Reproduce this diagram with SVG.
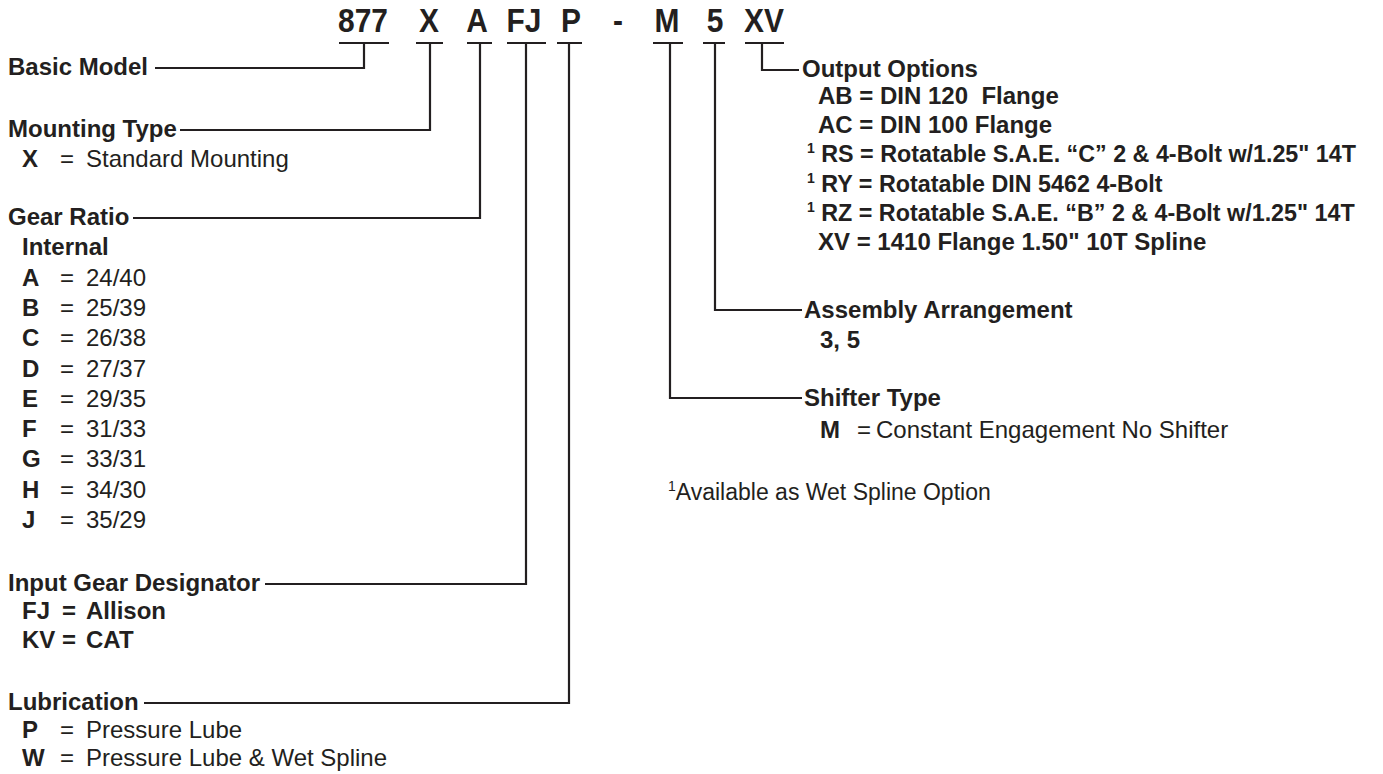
<svg xmlns="http://www.w3.org/2000/svg" width="1383" height="774" viewBox="0 0 1383 774">
<style>
text{font-family:"Liberation Sans",Arial,Helvetica,sans-serif;fill:#231f20;font-size:24px}
.b{font-weight:bold}
.code{font-weight:bold;font-size:34px;text-anchor:middle}
.sup{font-size:14px}
.nar{font-size:23.3px}
.ln{fill:none;stroke:#231f20;stroke-width:2.2}
</style>
<rect width="1383" height="774" fill="#ffffff"/>
<g id="code">
<text class="code" transform="translate(363,32) scale(0.88,1)">877</text>
<text class="code" transform="translate(429,32) scale(0.88,1)">X</text>
<text class="code" transform="translate(477,32) scale(0.88,1)">A</text>
<text class="code" transform="translate(524,32) scale(0.88,1)">FJ</text>
<text class="code" transform="translate(571,32) scale(0.88,1)">P</text>
<text class="code" transform="translate(618,32) scale(0.88,1)">-</text>
<text class="code" transform="translate(667,32) scale(0.88,1)">M</text>
<text class="code" transform="translate(715,32) scale(0.88,1)">5</text>
<text class="code" transform="translate(764,32) scale(0.88,1)">XV</text>
</g>
<g id="connectors">
<path class="ln" d="M339,43H389M364,43V68H155"/>
<path class="ln" d="M416,43H443M430,43V130H180"/>
<path class="ln" d="M467,43H492M480,43V218H133"/>
<path class="ln" d="M507,43H546M526,43V584H265"/>
<path class="ln" d="M557,43H582M569,43V703H144"/>
<path class="ln" d="M653,43H683M670,43V398H802"/>
<path class="ln" d="M703,43H725M715,43V310H802"/>
<path class="ln" d="M745,43H784M762,43V70H799"/>
</g>
<g id="basic-model">
<text class="b" x="8" y="75">Basic Model</text>
</g>
<g id="mounting-type">
<text class="b" x="8" y="137">Mounting Type</text>
<text class="b" x="22" y="167">X</text><text x="60" y="167">=</text><text x="86" y="167">Standard Mounting</text>
</g>
<g id="gear-ratio">
<text class="b" x="8" y="225">Gear Ratio</text>
<text class="b" x="22" y="255">Internal</text>
<text class="b" x="22" y="286">A</text><text x="60" y="286">=</text><text x="86" y="286">24/40</text>
<text class="b" x="22" y="316">B</text><text x="60" y="316">=</text><text x="86" y="316">25/39</text>
<text class="b" x="22" y="346">C</text><text x="60" y="346">=</text><text x="86" y="346">26/38</text>
<text class="b" x="22" y="377">D</text><text x="60" y="377">=</text><text x="86" y="377">27/37</text>
<text class="b" x="22" y="407">E</text><text x="60" y="407">=</text><text x="86" y="407">29/35</text>
<text class="b" x="22" y="437">F</text><text x="60" y="437">=</text><text x="86" y="437">31/33</text>
<text class="b" x="22" y="467">G</text><text x="60" y="467">=</text><text x="86" y="467">33/31</text>
<text class="b" x="22" y="498">H</text><text x="60" y="498">=</text><text x="86" y="498">34/30</text>
<text class="b" x="22" y="528">J</text><text x="60" y="528">=</text><text x="86" y="528">35/29</text>
</g>
<g id="input-gear">
<text class="b" x="8" y="591">Input Gear Designator</text>
<text class="b" x="22" y="619">FJ</text><text class="b" x="62" y="619">=</text><text class="b" x="86" y="619">Allison</text>
<text class="b" x="22" y="648">KV</text><text class="b" x="62" y="648">=</text><text class="b" x="86" y="648">CAT</text>
</g>
<g id="lubrication">
<text class="b" x="8" y="710">Lubrication</text>
<text class="b" x="22" y="738">P</text><text x="60" y="738">=</text><text x="86" y="738">Pressure Lube</text>
<text class="b" x="22" y="766">W</text><text x="60" y="766">=</text><text x="86" y="766">Pressure Lube &amp; Wet Spline</text>
</g>
<g id="output-options">
<text class="b" x="802" y="77">Output Options</text>
<text class="b" x="818" y="104" xml:space="preserve">AB = DIN 120  Flange</text>
<text class="b" x="818" y="133">AC = DIN 100 Flange</text>
<text class="b nar" x="807" y="162"><tspan class="sup" dy="-9">1</tspan><tspan dy="9"> RS = Rotatable S.A.E. “C” 2 &amp; 4-Bolt w/1.25" 14T</tspan></text>
<text class="b nar" x="807" y="192"><tspan class="sup" dy="-9">1</tspan><tspan dy="9"> RY = Rotatable DIN 5462 4-Bolt</tspan></text>
<text class="b nar" x="807" y="221"><tspan class="sup" dy="-9">1</tspan><tspan dy="9"> RZ = Rotatable S.A.E. “B” 2 &amp; 4-Bolt w/1.25" 14T</tspan></text>
<text class="b" x="818" y="250">XV = 1410 Flange 1.50" 10T Spline</text>
</g>
<g id="assembly-arrangement">
<text class="b" x="804" y="318">Assembly Arrangement</text>
<text class="b" x="820" y="348">3, 5</text>
</g>
<g id="shifter-type">
<text class="b" x="804" y="406">Shifter Type</text>
<text class="b" x="820" y="438">M</text><text x="857" y="438">=</text><text x="876" y="438">Constant Engagement No Shifter</text>
</g>
<g id="footnote">
<text x="668" y="500" style="font-size:23px"><tspan class="sup" dy="-9">1</tspan><tspan dy="9">Available as Wet Spline Option</tspan></text>
</g>
</svg>
